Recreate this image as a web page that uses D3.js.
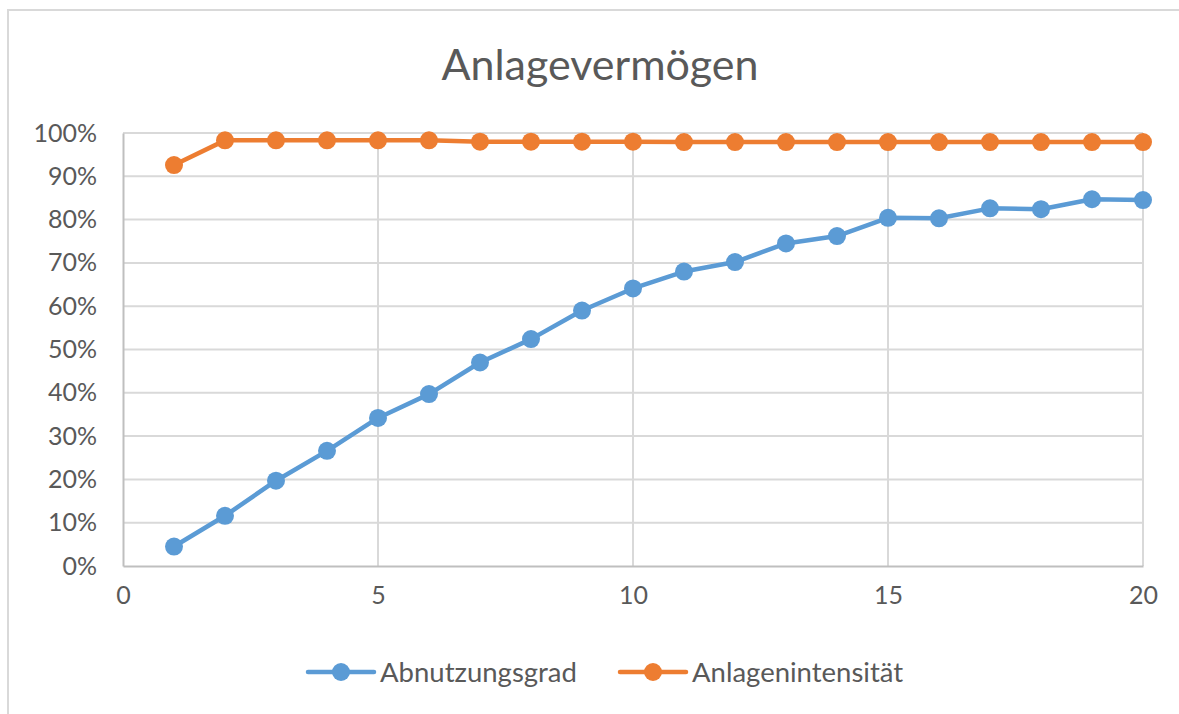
<!DOCTYPE html>
<html>
<head>
<meta charset="utf-8">
<script src="https://cdn.jsdelivr.net/npm/d3@7"></script>
<style>
  body { margin: 0; background: #fff; }
  svg { display: block; }
  text { font-family: Lato, "Open Sans", sans-serif; fill: #595959; }
</style>
</head>
<body>
<script>
// data
var jahre = [1, 2, 3, 4, 5, 6, 7, 8, 9, 10, 11, 12, 13, 14, 15, 16, 17, 18, 19, 20];
var abnutzungsgrad = [0.045, 0.116, 0.197, 0.266, 0.342, 0.397, 0.470, 0.524, 0.590, 0.641,
                      0.680, 0.702, 0.745, 0.762, 0.804, 0.803, 0.826, 0.824, 0.847, 0.845];
var anlagenintensitaet = [0.926, 0.983, 0.983, 0.983, 0.983, 0.983, 0.980, 0.980, 0.980, 0.980,
                          0.979, 0.979, 0.979, 0.979, 0.979, 0.979, 0.979, 0.979, 0.979, 0.979];
var xTicks = [0, 5, 10, 15, 20];
var yTicks = [0, 0.1, 0.2, 0.3, 0.4, 0.5, 0.6, 0.7, 0.8, 0.9, 1.0];
var serien = [
  {name: "Abnutzungsgrad", values: abnutzungsgrad, color: "#5b9bd5"},
  {name: "Anlagenintensität", values: anlagenintensitaet, color: "#ed7d31"}
];

var width = 1179, height = 714;
let svg = d3.select("body").append("svg")
    .attr("width", width)
    .attr("height", height);

// chart border (runs off the right and bottom edge in the screenshot)
svg.append("rect")
    .attr("x", 8).attr("y", 10)
    .attr("width", 1200).attr("height", 720)
    .attr("fill", "none")
    .attr("stroke", "#d9d9d9")
    .attr("stroke-width", 2);

var x = d3.scaleLinear().domain([0, 20]).range([123, 1143]);
var y = d3.scaleLinear().domain([0, 1]).range([566, 133]);

// title
svg.append("text")
    .text("Anlagevermögen")
    .attr("x", 600)
    .attr("y", 80)
    .attr("text-anchor", "middle")
    .style("font-size", "43px");

// horizontal gridlines
svg.append("g")
    .selectAll("line")
    .data(yTicks.slice(1))
    .enter().append("line")
    .attr("x1", x(0)).attr("x2", x(20))
    .attr("y1", function(d) { return y(d); })
    .attr("y2", function(d) { return y(d); })
    .attr("stroke", "#d9d9d9")
    .attr("stroke-width", 2);

// vertical gridlines
svg.append("g")
    .selectAll("line")
    .data(xTicks.slice(1))
    .enter().append("line")
    .attr("x1", function(d) { return x(d); })
    .attr("x2", function(d) { return x(d); })
    .attr("y1", y(0)).attr("y2", y(1))
    .attr("stroke", "#d9d9d9")
    .attr("stroke-width", 2);

// axes via d3 axis, then restyle like Excel
var yAxis = d3.axisLeft(y).tickValues(yTicks).tickSize(0).tickPadding(26)
    .tickFormat(d3.format(".0%"));
var xAxis = d3.axisBottom(x).tickValues(xTicks).tickSize(0).tickPadding(20)
    .tickFormat(d3.format("d"));

var gy = svg.append("g").attr("transform", "translate(" + x(0) + ",0)").call(yAxis);
var gx = svg.append("g").attr("transform", "translate(0," + y(0) + ")").call(xAxis);

[gy, gx].forEach(function(g) {
  g.select(".domain").attr("stroke", "#bfbfbf").attr("stroke-width", 2);
  g.selectAll("text")
      .attr("fill", "#595959")
      .style("font-family", "Lato, sans-serif")
      .style("font-size", "25px");
});

// lines + markers
var line = d3.line()
    .x(function(d, i) { return x(jahre[i]); })
    .y(function(d) { return y(d); });

serien.forEach(function(s) {
  svg.append("path")
      .datum(s.values)
      .attr("d", line)
      .attr("fill", "none")
      .attr("stroke", s.color)
      .attr("stroke-width", 4.5)
      .attr("stroke-linejoin", "round");

  svg.append("g")
      .selectAll("circle")
      .data(s.values)
      .enter().append("circle")
      .attr("cx", function(d, i) { return x(jahre[i]); })
      .attr("cy", function(d) { return y(d); })
      .attr("r", 9)
      .attr("fill", s.color);
});

// legend
var legendX = [308, 620];
var legend = svg.selectAll(".legend")
    .data(serien)
    .enter().append("g")
    .attr("class", "legend")
    .attr("transform", function(d, i) { return "translate(" + legendX[i] + ",672)"; });

legend.append("line")
    .attr("x1", 0).attr("x2", 66)
    .attr("y1", 0).attr("y2", 0)
    .attr("stroke", function(d) { return d.color; })
    .attr("stroke-width", 4.5)
    .attr("stroke-linecap", "round");

legend.append("circle")
    .attr("cx", 33).attr("cy", 0).attr("r", 9)
    .attr("fill", function(d) { return d.color; });

legend.append("text")
    .text(function(d) { return d.name; })
    .attr("x", 72)
    .attr("y", 0)
    .attr("dy", "0.35em")
    .style("font-size", "27.5px");
</script>
</body>
</html>
